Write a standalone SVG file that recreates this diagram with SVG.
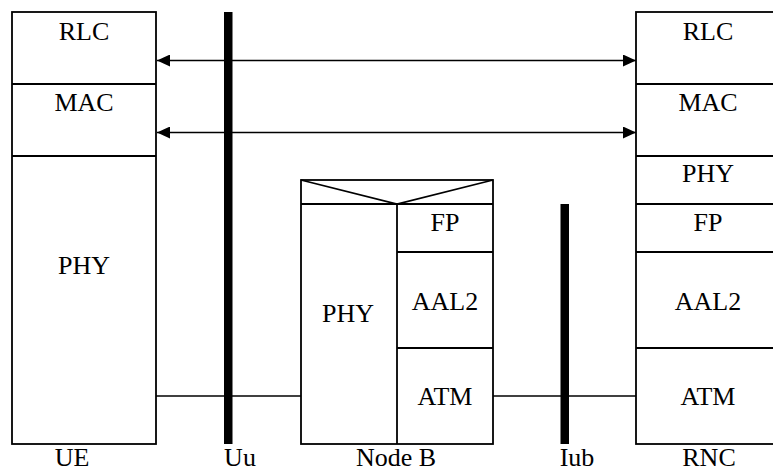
<svg xmlns="http://www.w3.org/2000/svg" width="773" height="472" viewBox="0 0 773 472">
<style>
.box{fill:#fff;stroke:#000;stroke-width:1.8}
.div{stroke:#000;stroke-width:1.8;fill:none}
.t{font-family:'Liberation Serif','Times New Roman',serif;font-size:26px;fill:#000;text-anchor:middle}
.bar{fill:#000}
.conn{stroke:#000;stroke-width:1.6;fill:none}
</style>
<defs>
<marker id="ah" viewBox="0 0 13 12" refX="13" refY="6" markerWidth="13" markerHeight="12" markerUnits="userSpaceOnUse" orient="auto-start-reverse">
<path d="M0,0 L13,6 L0,12 Z" fill="#000"/>
</marker>
</defs>
<rect width="773" height="472" fill="#fff"/>
<g id="connectors">
<line class="conn" x1="157" y1="60.5" x2="636" y2="60.5" marker-start="url(#ah)" marker-end="url(#ah)"/>
<line class="conn" x1="157" y1="132.5" x2="636" y2="132.5" marker-start="url(#ah)" marker-end="url(#ah)"/>
<line class="conn" x1="156" y1="396" x2="301" y2="396"/>
<line class="conn" x1="493" y1="396" x2="636" y2="396"/>
</g>
<g id="ue">
<rect class="box" x="12" y="12" width="144" height="432"/>
<line class="div" x1="12" y1="84" x2="156" y2="84"/>
<line class="div" x1="12" y1="156" x2="156" y2="156"/>
<text class="t" x="84" y="40">RLC</text>
<text class="t" x="84" y="111">MAC</text>
<text class="t" x="84" y="274">PHY</text>
</g>
<g id="uu">
<rect class="bar" x="224" y="12" width="8.5" height="432"/>
</g>
<g id="nodeb">
<rect class="box" x="301" y="180" width="192" height="264"/>
<line class="div" x1="301" y1="204" x2="493" y2="204"/>
<polyline class="div" points="301,180 397,204 493,180"/>
<line class="div" x1="397" y1="204" x2="397" y2="444"/>
<line class="div" x1="397" y1="252" x2="493" y2="252"/>
<line class="div" x1="397" y1="348" x2="493" y2="348"/>
<text class="t" x="348" y="322">PHY</text>
<text class="t" x="445" y="231">FP</text>
<text class="t" x="445" y="310">AAL2</text>
<text class="t" x="445" y="405">ATM</text>
</g>
<g id="iub">
<rect class="bar" x="560.5" y="204" width="8.5" height="240"/>
</g>
<g id="rnc">
<rect class="box" x="636" y="12" width="144" height="432"/>
<line class="div" x1="636" y1="84" x2="780" y2="84"/>
<line class="div" x1="636" y1="156" x2="780" y2="156"/>
<line class="div" x1="636" y1="204" x2="780" y2="204"/>
<line class="div" x1="636" y1="252" x2="780" y2="252"/>
<line class="div" x1="636" y1="348" x2="780" y2="348"/>
<text class="t" x="708" y="40">RLC</text>
<text class="t" x="708" y="111">MAC</text>
<text class="t" x="708" y="182">PHY</text>
<text class="t" x="708" y="231">FP</text>
<text class="t" x="708" y="310">AAL2</text>
<text class="t" x="708" y="405">ATM</text>
</g>
<g id="labels">
<text class="t" x="72" y="466">UE</text>
<text class="t" x="240" y="466">Uu</text>
<text class="t" x="396" y="466">Node B</text>
<text class="t" x="577" y="466">Iub</text>
<text class="t" x="709" y="466">RNC</text>
</g>
</svg>
